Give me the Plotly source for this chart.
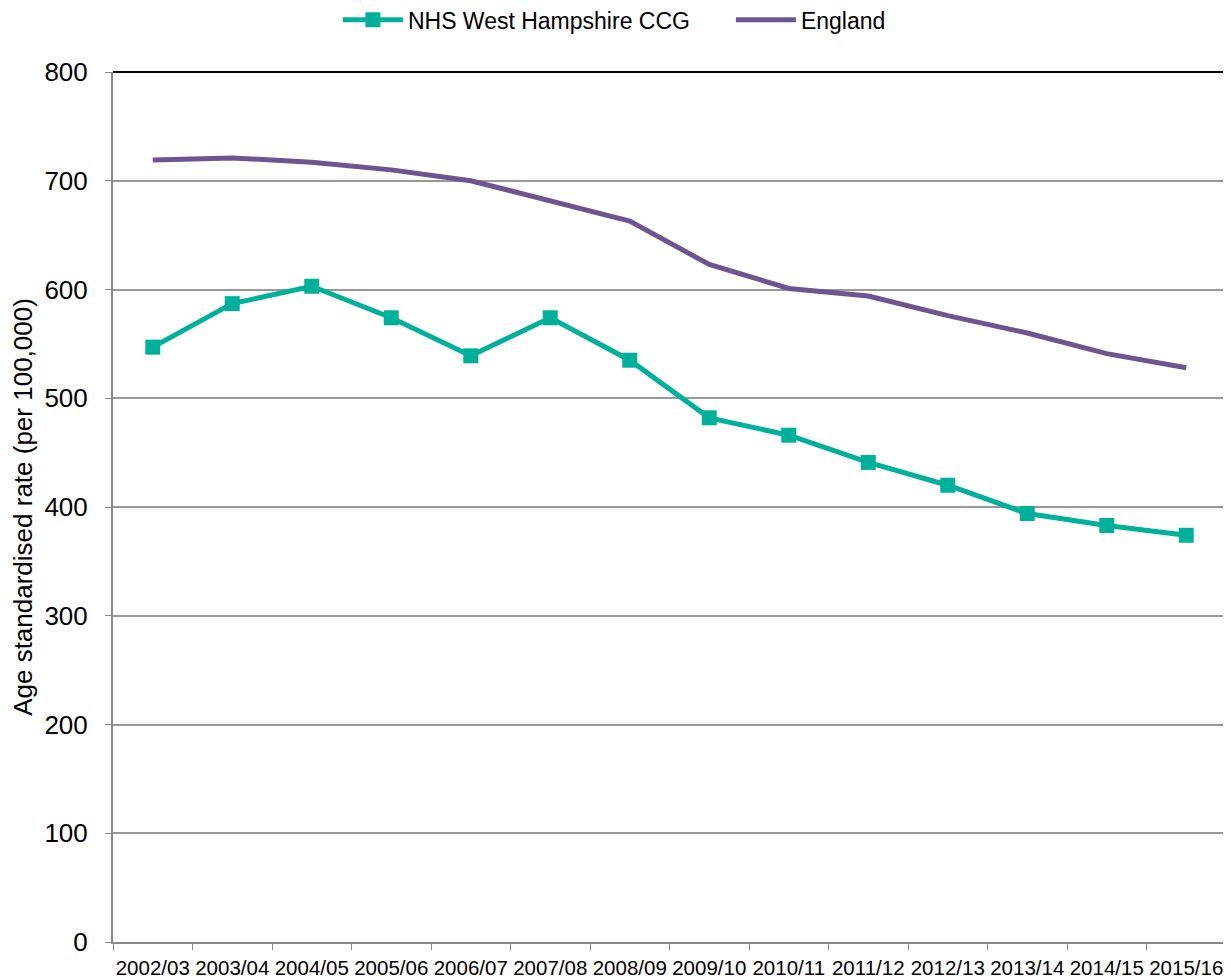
import plotly.graph_objects as go

years = ["2002/03", "2003/04", "2004/05", "2005/06", "2006/07", "2007/08", "2008/09",
         "2009/10", "2010/11", "2011/12", "2012/13", "2013/14", "2014/15", "2015/16"]
west_hampshire = [547, 587, 603, 574, 539, 574, 535, 482, 466, 441, 420, 394, 383, 374]
england = [719, 721, 717, 710, 700, 682, 663, 623, 601, 594, 576, 560, 541, 528]

teal = "rgb(0,176,155)"
purple = "rgb(108,85,145)"

fig = go.Figure()
fig.add_trace(go.Scatter(
    x=years, y=west_hampshire, name="NHS West Hampshire CCG",
    mode="lines+markers",
    line=dict(color=teal, width=5),
    marker=dict(symbol="square", size=15, color=teal),
))
fig.add_trace(go.Scatter(
    x=years, y=england, name="England",
    mode="lines",
    line=dict(color=purple, width=5),
))

fig.update_layout(
    width=1231, height=980,
    margin=dict(l=105, r=13, t=64, b=46),
    plot_bgcolor="white", paper_bgcolor="white",
    font=dict(family="Liberation Sans, Arial, sans-serif", color="black"),
    legend=dict(orientation="h", xref="container", x=0.268, xanchor="left",
                yref="container", y=0.988, yanchor="middle",
                font=dict(size=23), itemwidth=60, traceorder="normal",
                entrywidth=318, entrywidthmode="pixels"),
    xaxis=dict(
        type="category", range=[-0.5, 13.5], automargin=False, tickangle=0,
        tickson="boundaries", ticks="outside", ticklen=6, tickcolor="#888",
        showline=True, linecolor="#888", linewidth=2, ticklabelstandoff=6,
        showgrid=False, tickfont=dict(size=20.5),
    ),
    yaxis=dict(
        range=[0, 800], dtick=100, automargin=False,
        ticks="outside", ticklen=6, tickcolor="#888",
        showline=True, linecolor="#888", linewidth=2,
        showgrid=True, gridcolor="#999", gridwidth=1.5,
        tickfont=dict(size=26), zeroline=False, ticklabelstandoff=12,
        title=dict(text="Age standardised rate (per 100,000)", font=dict(size=26), standoff=8),
    ),
)

# top and right frame lines
fig.add_shape(type="line", xref="paper", yref="paper", x0=0, x1=1, y0=1, y1=1,
              line=dict(color="black", width=2))
fig.add_shape(type="line", xref="paper", yref="paper", x0=1, x1=1, y0=0, y1=1,
              line=dict(color="black", width=2))

fig.write_html("out.html")
